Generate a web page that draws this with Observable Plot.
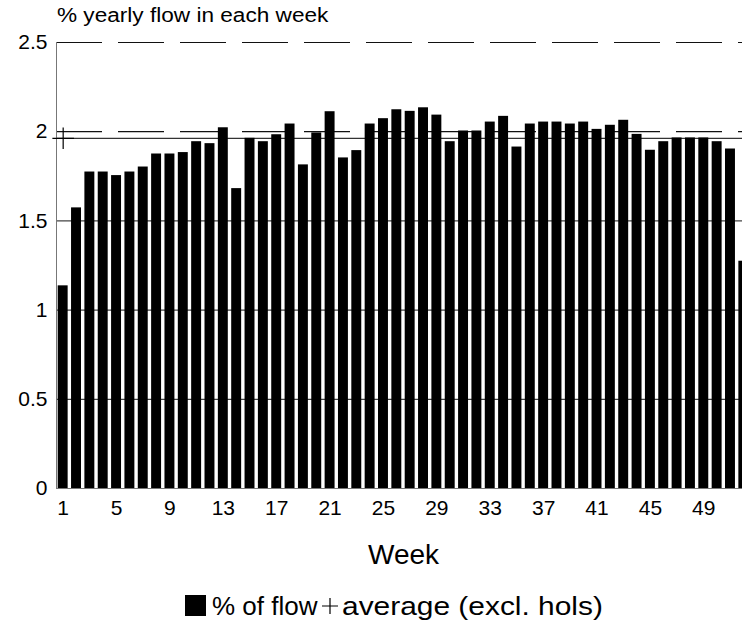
<!DOCTYPE html>
<html><head><meta charset="utf-8">
<script src="https://cdn.jsdelivr.net/npm/d3@7"></script>
<script src="https://cdn.jsdelivr.net/npm/@observablehq/plot@0.6"></script>
<style>
html,body{margin:0;padding:0;overflow:hidden;background:#fff;width:742px;height:627px;}
body{font-family:"Liberation Sans",Arial,Helvetica,sans-serif;position:relative;color:#000;}
#title{position:absolute;left:57px;top:3px;font-size:20px;line-height:24px;white-space:nowrap;transform:scaleX(1.13);transform-origin:0 0;}
#chart{position:absolute;left:0;top:30px;width:750px;}
.lg{position:absolute;white-space:nowrap;font-size:26px;line-height:26px;transform-origin:0 0;}
</style></head>
<body>
<div id="title">% yearly flow in each week</div>
<div id="chart"></div>
<div class="lg" style="left:185px;top:595px;width:21px;height:21px;background:#000"></div>
<div class="lg" style="left:212px;top:593px;">% of flow</div>
<svg class="lg" style="left:322px;top:598px;" width="16" height="16"><path d="M0,8H16M8,0V16" stroke="#000" stroke-width="1.2"/></svg>
<div class="lg" style="left:342px;top:593px;transform:scaleX(1.15);">average (excl. hols)</div>
<script>
const weeks = [1,2,3,4,5,6,7,8,9,10,11,12,13,14,15,16,17,18,19,20,21,22,23,24,25,26,27,28,29,30,31,32,33,34,35,36,37,38,39,40,41,42,43,44,45,46,47,48,49,50,51,52];
const flowPct = [1.136,1.573,1.774,1.774,1.754,1.774,1.802,1.875,1.875,1.883,1.944,1.933,2.022,
  1.681,1.963,1.944,1.983,2.043,1.814,1.993,2.112,1.853,1.894,2.043,2.073,2.123,
  2.114,2.134,2.093,1.944,2.004,2.004,2.054,2.086,1.914,2.043,2.054,2.054,2.043,
  2.054,2.013,2.036,2.064,1.985,1.896,1.944,1.965,1.965,1.965,1.944,1.903,1.274];
const averageWeek = [1];
const averageExclHols = [1.963];
const xTicks = [1,5,9,13,17,21,25,29,33,37,41,45,49];
const yTicks = [0,0.5,1,1.5,2,2.5];
const solidGrid = [0.5,1,1.5];
const dashedGrid = [2,2.5];
const xAxisTitle = ["Week"];

const bars = weeks.map((w,i)=>({week:w, pct:flowPct[i]}));
const avg = averageWeek.map((w,i)=>({week:w, value:averageExclHols[i]}));

const chart = Plot.plot({
  width: 750, height: 550,
  marginLeft: 56, marginRight: 0, marginTop: 12, marginBottom: 92,
  style: {fontFamily:"'Liberation Sans', Arial, sans-serif", fontSize:"21px", color:"#000", background:"#fff", overflow:"visible", maxWidth:"none"},
  x: {type:"band", domain: weeks, padding:0, round:false},
  y: {domain:[0,2.5]},
  marks: [
    Plot.ruleY(solidGrid, {stroke:"#444", strokeWidth:1.2}),
    Plot.ruleY(dashedGrid, {stroke:"#111", strokeWidth:1.2, strokeDasharray:"46,16"}),
    Plot.ruleY(averageExclHols, {stroke:"#333", strokeWidth:1.3}),
    Plot.barY(bars, {x:"week", y:"pct", fill:"#000", insetLeft:1.7, insetRight:1.7}),
    Plot.ruleY([0], {stroke:"#777", strokeWidth:1}),
    Plot.frame({anchor:"left", stroke:"#777", strokeWidth:1}),
    Plot.dot(avg, {x:"week", y:"value", symbol:"plus", r:7, stroke:"#000", strokeWidth:1.2}),
    Plot.axisX({ticks:xTicks, tickSize:0, tickPadding:12, label:null, fontSize:21}),
    Plot.axisY({ticks:yTicks, tickSize:0, tickPadding:9, label:null, fontSize:21, tickFormat:d=>String(d)}),
    Plot.text(xAxisTitle, {text:d=>d, frameAnchor:"bottom", dy:67, fontSize:28, lineAnchor:"middle"})
  ]
});
document.getElementById("chart").appendChild(chart);
</script>
</body></html>
